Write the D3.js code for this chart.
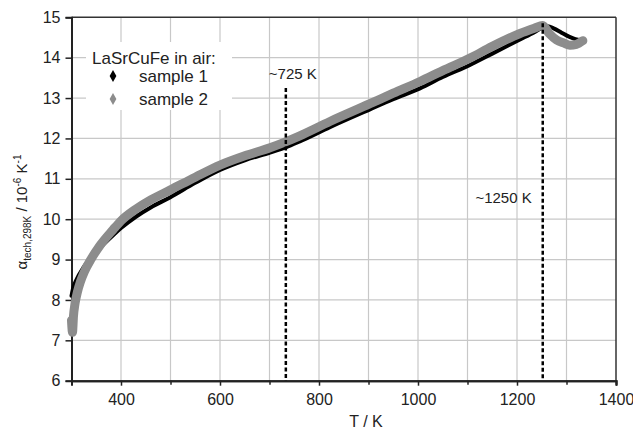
<!DOCTYPE html>
<html><head><meta charset="utf-8">
<script src="https://cdn.jsdelivr.net/npm/d3@7"></script>
<style>body{margin:0;background:#fff}svg{display:block;font-family:"Liberation Sans",Arial,sans-serif}</style>
</head><body>
<script>
const sample1T = [300,303,310,324,340,357,384,400,430,460,499,550,600,650,701,733,760,822,903,950,1004,1050,1105,1150,1206,1235,1252,1262,1275,1290,1305,1318,1330];
const sample1A = [8.1,8.28,8.5,8.8,9.05,9.28,9.6,9.78,10.06,10.29,10.54,10.9,11.22,11.46,11.65,11.78,11.92,12.28,12.72,12.97,13.24,13.52,13.82,14.1,14.45,14.63,14.75,14.78,14.72,14.62,14.52,14.46,14.44];
const sample2T = [300,302,304,307,312,318,326,340,357,384,400,430,460,499,550,600,650,701,731,760,822,903,950,1004,1050,1105,1150,1206,1235,1252,1265,1280,1295,1307,1320,1333];
const sample2A = [7.5,7.2,7.6,7.9,8.2,8.45,8.7,9.02,9.34,9.74,9.96,10.25,10.48,10.72,11.04,11.34,11.57,11.77,11.91,12.06,12.42,12.86,13.12,13.41,13.68,13.99,14.28,14.6,14.73,14.8,14.6,14.44,14.36,14.31,14.33,14.42];
const xTicks = [400,600,800,1000,1200,1400];
const yTicks = [6,7,8,9,10,11,12,13,14,15];
const markers = [733,1252];
const markerLabels = ["~725 K","~1250 K"];
const legendTitle = "LaSrCuFe in air:";
const seriesNames = ["sample 1","sample 2"];

const W=633,H=431;
const svg=d3.select("body").append("svg").attr("width",W).attr("height",H);
const x=d3.scaleLinear().domain([300,1400]).range([71.5,616]);
const y=d3.scaleLinear().domain([6,15]).range([380.7,17.3]);

// grid
svg.append("g").selectAll("line").data(d3.range(400,1400,100)).join("line")
  .attr("x1",d=>x(d)).attr("x2",d=>x(d)).attr("y1",y(6)).attr("y2",y(15))
  .attr("stroke","#c8c8c8").attr("stroke-width",1.2);
svg.append("g").selectAll("line").data(yTicks.slice(1,-1)).join("line")
  .attr("y1",d=>y(d)).attr("y2",d=>y(d)).attr("x1",x(300)).attr("x2",x(1400))
  .attr("stroke","#c8c8c8").attr("stroke-width",1.2);

// frame top/right
svg.append("line").attr("x1",x(300)).attr("x2",x(1400)).attr("y1",y(15)).attr("y2",y(15)).attr("stroke","#333").attr("stroke-width",1.5);
svg.append("line").attr("x1",x(1400)).attr("x2",x(1400)).attr("y1",y(15)).attr("y2",y(6)).attr("stroke","#333").attr("stroke-width",1.5);

// axes
const xa=svg.append("g").attr("transform",`translate(0,${y(6)})`)
  .call(d3.axisBottom(x).tickValues(xTicks).tickFormat(d3.format("d")).tickSize(5).tickPadding(8));
const xm=svg.append("g").attr("transform",`translate(0,${y(6)})`)
  .call(d3.axisBottom(x).tickValues(d3.range(500,1400,200)).tickSize(4).tickFormat(""));
const ya=svg.append("g").attr("transform",`translate(${x(300)},0)`)
  .call(d3.axisLeft(y).tickValues(yTicks).tickSize(6).tickPadding(5));
[xa,xm,ya].forEach(g=>{
  g.select(".domain").attr("stroke","#222").attr("stroke-width",2);
  g.selectAll(".tick line").attr("stroke","#222").attr("stroke-width",1.5);
  g.selectAll(".tick text").attr("font-size",16).attr("fill","#222").attr("font-family","Liberation Sans, Arial, sans-serif");
});

// series
const line=d3.line().x(d=>x(d[0])).y(d=>y(d[1])).curve(d3.curveMonotoneX);
const s1=sample1T.map((t,i)=>[t,sample1A[i]]);
const s2=sample2T.map((t,i)=>[t,sample2A[i]]);
svg.append("path").datum(s1).attr("d",line).attr("fill","none").attr("stroke","#000").attr("stroke-width",4).attr("stroke-linejoin","round").attr("stroke-linecap","round");
svg.append("path").datum(s2).attr("d",line).attr("fill","none").attr("stroke","#8c8c8c").attr("stroke-width",9).attr("stroke-linejoin","round").attr("stroke-linecap","round");

// dashed markers
svg.append("line").attr("x1",x(markers[0])).attr("x2",x(markers[0])).attr("y1",88).attr("y2",y(6))
  .attr("stroke","#000").attr("stroke-width",2.5).attr("stroke-dasharray","4,2.5");
svg.append("line").attr("x1",x(markers[1])).attr("x2",x(markers[1])).attr("y1",y(14.85)).attr("y2",y(6))
  .attr("stroke","#000").attr("stroke-width",2.5).attr("stroke-dasharray","4,2.5");
svg.append("text").attr("x",x(markers[0])+7).attr("y",79).attr("text-anchor","middle").attr("font-size",15).attr("fill","#222").text(markerLabels[0]);
svg.append("text").attr("x",x(markers[1])-11).attr("y",203).attr("text-anchor","end").attr("font-size",15).attr("fill","#222").text(markerLabels[1]);

// legend
const lg=svg.append("g");
lg.append("rect").attr("x",86).attr("y",42).attr("width",146).attr("height",68).attr("fill","#fff");
lg.append("text").attr("x",92).attr("y",64).attr("font-size",17).attr("fill","#222").text(legendTitle);
const dia=d3.symbol().type(d3.symbolDiamond).size(40);
[["#000",76],["#8c8c8c",99]].forEach((c,i)=>{
  lg.append("path").attr("d",dia).attr("transform",`translate(113,${c[1]})`).attr("fill",c[0]);
  lg.append("text").attr("x",139).attr("y",c[1]+6).attr("font-size",17).attr("fill","#222").text(seriesNames[i]);
});

// axis titles
svg.append("text").attr("x",x(800)+47).attr("y",427).attr("text-anchor","middle").attr("font-size",16).attr("fill","#222").text("T / K");
const yt=svg.append("text").attr("transform","translate(27,212) rotate(-90)").attr("text-anchor","middle").attr("font-size",15).attr("fill","#222");
yt.append("tspan").text("α");
yt.append("tspan").attr("font-size",10).attr("dy",4).text("tech,298K");
yt.append("tspan").attr("dy",-4).text(" / 10");
yt.append("tspan").attr("font-size",10).attr("dy",-6).text("-6");
yt.append("tspan").attr("dy",6).text(" K");
yt.append("tspan").attr("font-size",10).attr("dy",-6).text("-1");
</script>
</body></html>
